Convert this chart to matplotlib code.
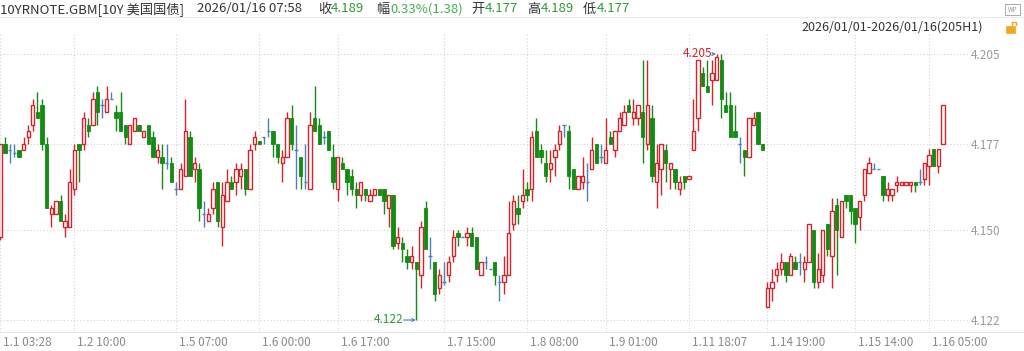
import matplotlib
matplotlib.use('Agg')
import matplotlib.pyplot as plt
import matplotlib.transforms as mtransforms
from matplotlib.patches import Rectangle
import numpy as np

plt.rcParams['font.family'] = ['Noto Sans CJK SC', 'DejaVu Sans']

# ---------------- data (hourly OHLC, 205 bars) ----------------
opens = [4.148, 4.177, 4.175, 4.174, 4.175, 4.175, 4.179, 4.183, 4.187, 4.189,
         4.177, 4.155, 4.155, 4.159, 4.151, 4.151, 4.163, 4.177, 4.177, 4.183,
         4.183, 4.193, 4.189, 4.187, 4.191, 4.187, 4.187, 4.183, 4.177, 4.181,
         4.183, 4.179, 4.183, 4.179, 4.173, 4.173, 4.171, 4.171, 4.163, 4.163,
         4.167, 4.179, 4.169, 4.169, 4.155, 4.153, 4.157, 4.165, 4.151, 4.159,
         4.165, 4.165, 4.167, 4.169, 4.163, 4.177, 4.178, 4.179, 4.181, 4.181,
         4.177, 4.171, 4.173, 4.185, 4.175, 4.173, 4.165, 4.163, 4.185, 4.183,
         4.179, 4.181, 4.173, 4.163, 4.171, 4.169, 4.167, 4.163, 4.161, 4.163,
         4.159, 4.161, 4.163, 4.163, 4.157, 4.161, 4.146, 4.146, 4.142, 4.140,
         4.140, 4.136, 4.157, 4.142, 4.140, 4.132, 4.134, 4.136, 4.142, 4.149,
         4.148, 4.148, 4.149, 4.148, 4.136, 4.140, 4.138, 4.140, 4.134, 4.134,
         4.136, 4.152, 4.157, 4.159, 4.163, 4.163, 4.181, 4.175, 4.171, 4.169,
         4.173, 4.177, 4.183, 4.181, 4.169, 4.163, 4.165, 4.165, 4.169, 4.177,
         4.173, 4.171, 4.179, 4.175, 4.181, 4.183, 4.189, 4.185, 4.185, 4.187,
         4.177, 4.185, 4.165, 4.169, 4.175, 4.169, 4.169, 4.163, 4.167, 4.166,
         4.175, 4.185, 4.199, 4.195, 4.197, 4.197, 4.203, 4.189, 4.189, 4.181,
         4.177, 4.175, 4.173, 4.183, 4.187, 4.177, 4.126, 4.132, 4.136, 4.138,
         4.140, 4.136, 4.140, 4.140, 4.138, 4.140, 4.150, 4.134, 4.136, 4.152,
         4.142, 4.158, 4.148, 4.161, 4.161, 4.157, 4.154, 4.161, 4.168, 4.169,
         4.169, 4.167, 4.161, 4.161, 4.164, 4.164, 4.164, 4.164, 4.165, 4.165,
         4.166, 4.170, 4.1755, 4.170, 4.177]
highs = [4.177, 4.179, 4.177, 4.177, 4.175, 4.179, 4.183, 4.191, 4.193, 4.191,
         4.179, 4.158, 4.159, 4.161, 4.155, 4.169, 4.177, 4.177, 4.187, 4.185,
         4.193, 4.195, 4.191, 4.195, 4.193, 4.189, 4.193, 4.183, 4.183, 4.185,
         4.183, 4.181, 4.183, 4.181, 4.177, 4.177, 4.177, 4.173, 4.165, 4.171,
         4.191, 4.181, 4.173, 4.171, 4.159, 4.157, 4.165, 4.165, 4.165, 4.169,
         4.167, 4.171, 4.171, 4.169, 4.177, 4.181, 4.178, 4.179, 4.185, 4.181,
         4.177, 4.175, 4.187, 4.189, 4.183, 4.173, 4.177, 4.187, 4.195, 4.185,
         4.181, 4.181, 4.177, 4.173, 4.173, 4.169, 4.169, 4.165, 4.165, 4.163,
         4.163, 4.163, 4.163, 4.163, 4.161, 4.161, 4.151, 4.148, 4.144, 4.145,
         4.140, 4.153, 4.159, 4.148, 4.140, 4.138, 4.140, 4.142, 4.150, 4.150,
         4.148, 4.151, 4.151, 4.148, 4.140, 4.142, 4.138, 4.140, 4.136, 4.142,
         4.159, 4.161, 4.161, 4.169, 4.165, 4.181, 4.185, 4.177, 4.175, 4.175,
         4.177, 4.183, 4.183, 4.183, 4.169, 4.167, 4.173, 4.171, 4.179, 4.177,
         4.177, 4.185, 4.181, 4.181, 4.187, 4.189, 4.191, 4.191, 4.189, 4.203,
         4.203, 4.189, 4.177, 4.177, 4.177, 4.171, 4.169, 4.167, 4.167, 4.167,
         4.191, 4.203, 4.201, 4.203, 4.203, 4.205, 4.205, 4.193, 4.193, 4.189,
         4.179, 4.175, 4.185, 4.187, 4.187, 4.177, 4.134, 4.138, 4.140, 4.143,
         4.140, 4.143, 4.142, 4.143, 4.142, 4.152, 4.150, 4.143, 4.150, 4.152,
         4.160, 4.160, 4.159, 4.161, 4.161, 4.157, 4.159, 4.169, 4.173, 4.171,
         4.169, 4.167, 4.165, 4.163, 4.167, 4.165, 4.165, 4.165, 4.165, 4.169,
         4.171, 4.1755, 4.1755, 4.1755, 4.189]
lows = [4.147, 4.174, 4.171, 4.173, 4.173, 4.175, 4.177, 4.181, 4.185, 4.175,
        4.157, 4.151, 4.155, 4.153, 4.148, 4.151, 4.161, 4.165, 4.175, 4.179,
        4.183, 4.183, 4.185, 4.187, 4.191, 4.181, 4.181, 4.177, 4.177, 4.181,
        4.181, 4.179, 4.177, 4.173, 4.171, 4.163, 4.169, 4.165, 4.161, 4.163,
        4.167, 4.167, 4.165, 4.153, 4.151, 4.153, 4.155, 4.151, 4.145, 4.159,
        4.163, 4.161, 4.163, 4.161, 4.163, 4.175, 4.177, 4.177, 4.179, 4.173,
        4.171, 4.165, 4.173, 4.175, 4.163, 4.163, 4.163, 4.163, 4.181, 4.177,
        4.177, 4.175, 4.163, 4.159, 4.169, 4.161, 4.161, 4.157, 4.159, 4.159,
        4.159, 4.161, 4.161, 4.155, 4.151, 4.144, 4.144, 4.140, 4.138, 4.138,
        4.122, 4.132, 4.144, 4.138, 4.128, 4.130, 4.133, 4.134, 4.140, 4.145,
        4.148, 4.145, 4.145, 4.138, 4.136, 4.138, 4.138, 4.133, 4.128, 4.130,
        4.136, 4.150, 4.152, 4.157, 4.159, 4.159, 4.173, 4.171, 4.165, 4.165,
        4.167, 4.175, 4.179, 4.163, 4.163, 4.163, 4.163, 4.159, 4.169, 4.171,
        4.171, 4.171, 4.177, 4.173, 4.181, 4.183, 4.187, 4.183, 4.183, 4.171,
        4.175, 4.165, 4.157, 4.161, 4.165, 4.163, 4.163, 4.161, 4.163, 4.166,
        4.175, 4.181, 4.195, 4.193, 4.189, 4.197, 4.185, 4.187, 4.179, 4.179,
        4.171, 4.167, 4.173, 4.183, 4.177, 4.175, 4.126, 4.128, 4.134, 4.136,
        4.134, 4.136, 4.138, 4.136, 4.134, 4.140, 4.132, 4.132, 4.134, 4.142,
        4.132, 4.136, 4.148, 4.157, 4.152, 4.146, 4.150, 4.159, 4.168, 4.169,
        4.169, 4.159, 4.159, 4.159, 4.162, 4.164, 4.164, 4.162, 4.162, 4.164,
        4.164, 4.164, 4.170, 4.168, 4.177]
closes = [4.177, 4.174, 4.175, 4.174, 4.173, 4.177, 4.181, 4.189, 4.185, 4.177,
          4.157, 4.157, 4.159, 4.153, 4.153, 4.165, 4.175, 4.175, 4.185, 4.181,
          4.191, 4.187, 4.189, 4.191, 4.191, 4.185, 4.181, 4.179, 4.183, 4.185,
          4.181, 4.181, 4.177, 4.173, 4.175, 4.171, 4.171, 4.165, 4.163, 4.169,
          4.181, 4.167, 4.171, 4.157, 4.155, 4.155, 4.163, 4.153, 4.161, 4.165,
          4.163, 4.169, 4.169, 4.163, 4.175, 4.179, 4.177, 4.179, 4.181, 4.177,
          4.173, 4.173, 4.185, 4.177, 4.175, 4.167, 4.165, 4.183, 4.181, 4.177,
          4.179, 4.175, 4.165, 4.173, 4.169, 4.165, 4.163, 4.161, 4.165, 4.161,
          4.161, 4.163, 4.161, 4.159, 4.161, 4.145, 4.148, 4.144, 4.140, 4.142,
          4.138, 4.151, 4.144, 4.142, 4.130, 4.136, 4.134, 4.140, 4.148, 4.148,
          4.148, 4.149, 4.145, 4.138, 4.140, 4.140, 4.138, 4.136, 4.134, 4.136,
          4.149, 4.159, 4.155, 4.161, 4.161, 4.179, 4.173, 4.173, 4.167, 4.171,
          4.175, 4.181, 4.183, 4.167, 4.163, 4.167, 4.167, 4.165, 4.175, 4.171,
          4.173, 4.175, 4.177, 4.181, 4.185, 4.187, 4.187, 4.187, 4.189, 4.179,
          4.189, 4.167, 4.171, 4.177, 4.171, 4.171, 4.165, 4.165, 4.165, 4.167,
          4.181, 4.203, 4.195, 4.193, 4.199, 4.204, 4.191, 4.187, 4.179, 4.179,
          4.177, 4.173, 4.185, 4.185, 4.177, 4.175, 4.132, 4.134, 4.138, 4.140,
          4.136, 4.142, 4.138, 4.140, 4.140, 4.152, 4.134, 4.138, 4.150, 4.144,
          4.156, 4.150, 4.159, 4.159, 4.156, 4.152, 4.159, 4.169, 4.171, 4.169,
          4.169, 4.161, 4.163, 4.163, 4.165, 4.165, 4.165, 4.165, 4.164, 4.165,
          4.171, 4.1735, 4.170, 4.1755, 4.189]

tick_idx = [0, 16, 38, 56, 73, 96, 114, 131, 149, 166, 185, 201]
tick_labels = ['1.1 03:28', '1.2 10:00', '1.5 07:00', '1.6 00:00', '1.6 17:00',
               '1.7 15:00', '1.8 08:00', '1.9 01:00', '1.11 18:07', '1.14 19:00',
               '1.15 14:00', '1.16 05:00']
price_ticks = [4.122, 4.150, 4.177, 4.205]
price_labels = ['4.122', '4.150', '4.177', '4.205']

high_idx, high_val = 155, 4.205
low_idx, low_val = 90, 4.122

header_parts = [
    (0, '10YRNOTE.GBM[10Y 美国国债]', 'k'),
    (197, '2026/01/16 07:58', 'k'),
    (318, '收', 'k'), (331, '4.189', 'g'),
    (376, '幅', 'k'), (390, '0.33%(1.38)', 'g2'),
    (471, '开', 'k'), (485, '4.177', 'g'),
    (527, '高', 'k'), (541, '4.189', 'g'),
    (583, '低', 'k'), (597, '4.177', 'g'),
]
range_text = '2026/01/01-2026/01/16(205H1)'

# ---------------- styling ----------------
RED = '#d5232b'
GREEN = '#138c13'
BLUE = '#4a82b4'
DARK = '#333333'
TXTGREEN = '#2e9a36'
TXTGREEN2 = '#45b04f'
GRID = '#d2d2d2'
AXTXT = '#9a9a9a'

W, H = 1024, 351
fig = plt.figure(figsize=(W / 100, H / 100), dpi=100)
fig.patch.set_facecolor('white')

ax_left, ax_right, ax_top, ax_bot = 0, 968, 33, 332
ax = fig.add_axes([ax_left / W, 1 - ax_bot / H, (ax_right - ax_left) / W, (ax_bot - ax_top) / H])

o = np.array(opens); h = np.array(highs); l = np.array(lows); c = np.array(closes)
x = np.arange(len(o))
eq = np.isclose(o, c)
up = (c > o) & ~eq
dn = (c < o) & ~eq
w = 0.72

ax.vlines(x[up], l[up], h[up], color=RED, lw=1.0, zorder=2)
ax.vlines(x[dn], l[dn], h[dn], color=GREEN, lw=1.0, zorder=2)
ax.vlines(x[eq], l[eq], h[eq], color=BLUE, lw=1.0, zorder=2)
ax.bar(x[up], (c - o)[up], bottom=o[up], width=w, facecolor='white',
       edgecolor=RED, linewidth=1.0, zorder=3)
ax.bar(x[dn], (o - c)[dn], bottom=c[dn], width=w, facecolor=GREEN,
       edgecolor=GREEN, linewidth=0.6, zorder=3)
ax.hlines(o[eq], x[eq] - w / 2, x[eq] + w / 2, color=BLUE, lw=1.0, zorder=3)

# scales
px_per_bar = 4.62
x0 = -0.1
ax.set_xlim(x0, x0 + (ax_right - ax_left) / px_per_bar)
px_per_unit = (320 - 54) / (4.205 - 4.122)
ax.set_ylim(4.205 - (ax_bot - 54) / px_per_unit, 4.205 + (54 - ax_top) / px_per_unit)

for s in ax.spines.values():
    s.set_visible(False)

ax.set_xticks(tick_idx)
ax.set_xticklabels(tick_labels, fontsize=8.5, color='#8a8a8a')
ax.tick_params(axis='x', length=0, pad=3)
offset = mtransforms.ScaledTranslation(3 / 100, 0, fig.dpi_scale_trans)
for lab in ax.get_xticklabels():
    lab.set_horizontalalignment('left')
    lab.set_transform(lab.get_transform() + offset)

ax.yaxis.tick_right()
ax.set_yticks(price_ticks)
ax.set_yticklabels(price_labels, fontsize=8.5, color=AXTXT)
ax.tick_params(axis='y', length=0, pad=2)

ax.grid(True, color=GRID, linestyle=(0, (1, 2)), linewidth=0.8, zorder=0)
ax.set_axisbelow(True)

# high / low markers
ax.annotate('', xy=(high_idx - 0.1, high_val), xytext=(high_idx - 1.0, high_val),
            arrowprops=dict(arrowstyle='->', color=BLUE, lw=0.8, shrinkA=0, shrinkB=0,
                            mutation_scale=5), zorder=4)
ax.text(high_idx - 1.0, high_val, '4.205', color=RED, fontsize=8.5,
        ha='right', va='center', zorder=4)
ax.annotate('', xy=(low_idx - 0.1, low_val), xytext=(low_idx - 2.7, low_val),
            arrowprops=dict(arrowstyle='->', color=BLUE, lw=0.8, shrinkA=0, shrinkB=0,
                            mutation_scale=5), zorder=4)
ax.text(low_idx - 2.7, low_val, '4.122', color=TXTGREEN, fontsize=8.5,
        ha='right', va='center', zorder=4)

# header
colmap = {'k': DARK, 'g': TXTGREEN, 'g2': TXTGREEN2}
for px, txt, col in header_parts:
    fig.text(px / W, 1 - 9 / H, txt, color=colmap[col], fontsize=9.5,
             ha='left', va='center')
fig.text(983 / W, 1 - 27.5 / H, range_text, color=DARK, fontsize=9,
         ha='right', va='center')

# separator lines
fig.add_artist(plt.Line2D([0, 1], [1 - 17 / H, 1 - 17 / H], color='#ebebeb', lw=0.8))
fig.add_artist(plt.Line2D([0, 1], [1 - 332 / H, 1 - 332 / H], color='#e6e6e6', lw=0.8))

# small icons (top right)
fig.add_artist(Rectangle((1005 / W, 1 - 15 / H), 15 / W, 11 / H, fill=False,
                         edgecolor='#aaaaaa', lw=0.7, transform=fig.transFigure))
fig.text(1012.5 / W, 1 - 9.5 / H, 'WP', fontsize=4.5, color='#999999',
         ha='center', va='center')
fig.add_artist(Rectangle((1006 / W, 1 - 33 / H), 9 / W, 7 / H, facecolor='#f0a81e',
                         edgecolor='#f0a81e', lw=0.5, transform=fig.transFigure))
fig.add_artist(plt.Line2D([1012 / W, 1012 / W, 1016 / W, 1016 / W],
                          [1 - 26 / H, 1 - 22 / H, 1 - 22 / H, 1 - 25 / H],
                          color='#f0a81e', lw=1.0))

fig.savefig('out.png', dpi=100, facecolor='white')
